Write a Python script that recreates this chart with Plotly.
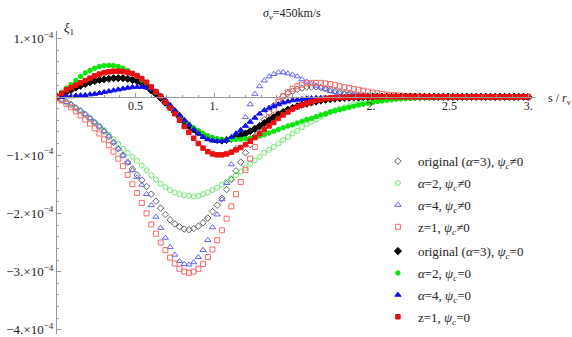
import plotly.graph_objects as go

# s / r_v sample positions
S = [0.00, 0.03, 0.06, 0.09, 0.12, 0.15, 0.18, 0.21, 0.24, 0.27,
     0.30, 0.33, 0.36, 0.39, 0.42, 0.45, 0.48, 0.51, 0.54, 0.57,
     0.60, 0.63, 0.66, 0.69, 0.72, 0.75, 0.78, 0.81, 0.84, 0.87,
     0.90, 0.93, 0.96, 0.99, 1.02, 1.05, 1.08, 1.11, 1.14, 1.17,
     1.20, 1.23, 1.26, 1.29, 1.32, 1.35, 1.38, 1.41, 1.44, 1.47,
     1.50, 1.53, 1.56, 1.59, 1.62, 1.65, 1.68, 1.71, 1.74, 1.77,
     1.80, 1.83, 1.86, 1.89, 1.92, 1.95, 1.98, 2.01, 2.04, 2.07,
     2.10, 2.13, 2.16, 2.19, 2.22, 2.25, 2.28, 2.31, 2.34, 2.37,
     2.40, 2.43, 2.46, 2.49, 2.52, 2.55, 2.58, 2.61, 2.64, 2.67,
     2.70, 2.73, 2.76, 2.79, 2.82, 2.85, 2.88, 2.91, 2.94, 2.97,
     3.00]

# xi_1 in units of 1e-5
orig_psi = [0, -0.5, -0.9, -1.3, -1.9, -2.4, -3.0, -3.7, -4.4, -5.1,
            -5.9, -6.8, -7.8, -8.9, -10.0, -11.2, -12.4, -13.4, -14.3, -15.4,
            -16.7, -17.9, -19.1, -20.2, -21.1, -21.8, -22.3, -22.7, -22.8, -22.6,
            -22.2, -21.6, -20.8, -19.7, -18.6, -17.4, -15.9, -14.2, -12.7, -11.2,
            -9.6, -8.2, -6.8, -5.3, -3.9, -2.7, -1.5, -0.6, 0.1, 0.6,
            1.0, 1.3, 1.5, 1.7, 1.7, 1.7, 1.6, 1.4, 1.2, 1.0,
            0.8, 0.6, 0.5, 0.4, 0.3, 0.2, 0.15, 0.1, 0.1, 0.05,
            0.05, 0, 0, 0, 0, 0, 0, 0, 0, 0,
            0, 0, 0, 0, 0, 0, 0, 0, 0, 0,
            0, 0, 0, 0, 0, 0, 0, 0, 0, 0,
            0]
a2_psi = [0, -0.5, -0.9, -1.3, -1.9, -2.4, -3.0, -3.6, -4.3, -5.0,
          -5.7, -6.5, -7.3, -8.1, -8.9, -9.6, -10.3, -11.0, -11.8, -12.6,
          -13.5, -14.2, -14.9, -15.5, -16.0, -16.4, -16.7, -16.9, -17.0, -17.1,
          -17.0, -16.7, -16.4, -16.0, -15.6, -15.1, -14.6, -14.0, -13.4, -12.8,
          -12.2, -11.5, -10.9, -10.3, -9.6, -9.1, -8.6, -8.0, -7.4, -6.9,
          -6.3, -5.8, -5.2, -4.7, -4.3, -3.9, -3.4, -3.0, -2.6, -2.3,
          -2.0, -1.8, -1.6, -1.3, -1.1, -0.9, -0.7, -0.6, -0.5, -0.4,
          -0.3, -0.25, -0.2, -0.15, -0.1, -0.1, -0.05, -0.05, 0, 0,
          0, 0, 0, 0, 0, 0, 0, 0, 0, 0,
          0, 0, 0, 0, 0, 0, 0, 0, 0, 0,
          0]
a4_psi = [0, -0.5, -0.9, -1.3, -1.9, -2.4, -3.0, -3.7, -4.4, -5.1,
          -5.9, -6.8, -7.8, -8.9, -10.1, -11.3, -12.6, -13.8, -15.1, -16.7,
          -18.6, -20.6, -22.5, -24.2, -25.8, -27.1, -28.2, -28.7, -28.8, -28.4,
          -27.5, -26.3, -24.6, -22.4, -20.2, -17.6, -14.8, -11.6, -8.8, -6.0,
          -3.5, -1.3, 0.5, 1.8, 2.8, 3.5, 3.9, 4.2, 4.2, 4.0,
          3.8, 3.5, 3.0, 2.6, 2.2, 1.9, 1.6, 1.3, 1.0, 0.8,
          0.6, 0.5, 0.4, 0.3, 0.2, 0.15, 0.1, 0.1, 0.05, 0.05,
          0, 0, 0, 0, 0, 0, 0, 0, 0, 0,
          0, 0, 0, 0, 0, 0, 0, 0, 0, 0,
          0, 0, 0, 0, 0, 0, 0, 0, 0, 0,
          0]
z1_psi = [0, -0.6, -1.2, -1.8, -2.5, -3.2, -3.9, -4.6, -5.4, -6.3,
          -7.3, -8.3, -9.4, -10.6, -11.9, -13.4, -15.0, -16.5, -18.2, -20.0,
          -21.9, -23.5, -25.0, -26.3, -27.6, -28.6, -29.5, -30.0, -30.2, -30.0,
          -29.5, -28.7, -27.5, -26.2, -24.6, -22.9, -20.9, -18.8, -16.7, -14.6,
          -12.6, -10.6, -8.6, -6.6, -4.9, -3.5, -2.2, -0.9, 0.1, 0.8,
          1.4, 1.8, 2.1, 2.3, 2.4, 2.4, 2.4, 2.3, 2.2, 2.0,
          1.8, 1.65, 1.5, 1.35, 1.2, 1.05, 0.9, 0.75, 0.6, 0.5,
          0.4, 0.3, 0.25, 0.2, 0.15, 0.1, 0.1, 0.05, 0.05, 0,
          0, 0, 0, 0, 0, 0, 0, 0, 0, 0,
          0, 0, 0, 0, 0, 0, 0, 0, 0, 0,
          0]
orig_nopsi = [0, 0.3, 0.8, 1.2, 1.6, 1.9, 2.2, 2.5, 2.7, 2.9,
              3.0, 3.1, 3.2, 3.2, 3.2, 3.1, 2.9, 2.7, 2.3, 1.8,
              1.1, 0.5, -0.2, -1.0, -1.8, -2.6, -3.4, -4.2, -5.0, -5.6,
              -6.1, -6.5, -6.9, -7.2, -7.4, -7.5, -7.4, -7.2, -6.9, -6.6,
              -6.3, -5.9, -5.5, -5.0, -4.5, -4.0, -3.5, -3.0, -2.6, -2.2,
              -1.9, -1.6, -1.35, -1.15, -0.95, -0.8, -0.65, -0.5, -0.4, -0.3,
              -0.25, -0.2, -0.15, -0.1, -0.1, -0.05, -0.05, 0, 0, 0,
              0, 0, 0, 0, 0, 0, 0, 0, 0, 0,
              0, 0, 0, 0, 0, 0, 0, 0, 0, 0,
              0, 0, 0, 0, 0, 0, 0, 0, 0, 0,
              0]
a2_nopsi = [0, 0.8, 1.5, 2.1, 2.8, 3.5, 4.1, 4.5, 4.9, 5.2,
            5.35, 5.4, 5.35, 5.2, 4.9, 4.5, 4.0, 3.5, 2.9, 2.3,
            1.5, 0.8, 0.0, -0.8, -1.6, -2.4, -3.2, -4.0, -4.7, -5.3,
            -5.8, -6.3, -6.7, -7.0, -7.2, -7.3, -7.35, -7.35, -7.3, -7.3,
            -7.2, -7.1, -6.9, -6.7, -6.5, -6.2, -5.9, -5.6, -5.3, -5.0,
            -4.8, -4.5, -4.2, -3.9, -3.7, -3.4, -3.1, -2.9, -2.6, -2.4,
            -2.2, -2.0, -1.8, -1.6, -1.4, -1.25, -1.1, -0.95, -0.8, -0.7,
            -0.6, -0.5, -0.4, -0.35, -0.3, -0.25, -0.2, -0.15, -0.1, -0.1,
            -0.05, -0.05, -0.05, 0, 0, 0, 0, 0, 0, 0,
            0, 0, 0, 0, 0, 0, 0, 0, 0, 0,
            0]
a4_nopsi = [0, 0, 0.1, 0.1, 0.2, 0.25, 0.3, 0.4, 0.5, 0.65,
            0.8, 0.95, 1.1, 1.25, 1.4, 1.55, 1.65, 1.7, 1.7, 1.6,
            1.4, 0.9, 0.2, -0.6, -1.4, -2.3, -3.1, -4.0, -4.8, -5.6,
            -6.3, -6.9, -7.3, -7.5, -7.6, -7.6, -7.4, -6.9, -6.3, -5.7,
            -5.0, -4.3, -3.6, -2.9, -2.3, -1.9, -1.6, -1.3, -1.0, -0.8,
            -0.6, -0.5, -0.4, -0.3, -0.25, -0.2, -0.2, -0.15, -0.15, -0.1,
            -0.1, -0.1, -0.1, -0.05, -0.05, -0.05, 0, 0, 0, 0,
            0, 0, 0, 0, 0, 0, 0, 0, 0, 0,
            0, 0, 0, 0, 0, 0, 0, 0, 0, 0,
            0, 0, 0, 0, 0, 0, 0, 0, 0, 0,
            0]
z1_nopsi = [0, 0.6, 1.2, 1.6, 2.0, 2.4, 2.8, 3.2, 3.6, 3.9,
            4.15, 4.3, 4.4, 4.4, 4.35, 4.2, 4.0, 3.6, 3.1, 2.5,
            1.7, 0.9, 0.1, -0.9, -1.9, -2.9, -4.0, -5.1, -6.1, -7.1,
            -8.0, -8.8, -9.4, -9.8, -9.95, -9.95, -9.8, -9.5, -9.1, -8.7,
            -8.2, -7.6, -7.0, -6.3, -5.6, -5.0, -4.4, -3.7, -3.1, -2.6,
            -2.1, -1.7, -1.4, -1.1, -0.85, -0.6, -0.45, -0.3, -0.2, -0.15,
            -0.1, -0.1, -0.05, -0.05, 0, 0, 0, 0, 0, 0,
            0, 0, 0, 0, 0, 0, 0, 0, 0, 0,
            0, 0, 0, 0, 0, 0, 0, 0, 0, 0,
            0, 0, 0, 0, 0, 0, 0, 0, 0, 0,
            0]

x_tickvals = [0.5, 1.0, 1.5, 2.0, 2.5, 3.0]
x_ticktext = ['0.5', '1.', '', '2.', '2.5', '3.']
y_tickvals = [1e-4, -1e-4, -2e-4, -3e-4, -4e-4]
y_ticktext = ['1.×10<sup>−4</sup>', '−1.×10<sup>−4</sup>', '−2.×10<sup>−4</sup>',
              '−3.×10<sup>−4</sup>', '−4.×10<sup>−4</sup>']

series = [
    (orig_psi, 'original (<i>α</i>=3), <i>ψ</i><sub><i>c</i></sub>≠0', 'diamond-open', 'rgb(95,95,95)', 5, 'legend'),
    (a2_psi, '<i>α</i>=2, <i>ψ</i><sub><i>c</i></sub>≠0', 'circle-open', 'rgb(110,230,110)', 5, 'legend'),
    (a4_psi, '<i>α</i>=4, <i>ψ</i><sub><i>c</i></sub>≠0', 'triangle-up-open', 'rgb(100,100,245)', 5.5, 'legend'),
    (z1_psi, 'z=1, <i>ψ</i><sub><i>c</i></sub>≠0', 'square-open', 'rgb(245,105,105)', 5, 'legend'),
    (orig_nopsi, 'original (<i>α</i>=3), <i>ψ</i><sub><i>c</i></sub>=0', 'diamond', 'black', 5.5, 'legend2'),
    (a2_nopsi, '<i>α</i>=2, <i>ψ</i><sub><i>c</i></sub>=0', 'circle', 'rgb(10,230,10)', 4.5, 'legend2'),
    (a4_nopsi, '<i>α</i>=4, <i>ψ</i><sub><i>c</i></sub>=0', 'triangle-up', 'rgb(15,15,235)', 5.5, 'legend2'),
    (z1_nopsi, 'z=1, <i>ψ</i><sub><i>c</i></sub>=0', 'square', 'rgb(235,15,15)', 4.5, 'legend2'),
]

fig = go.Figure()
for k, (vals, name, sym, col, sz, leg) in enumerate(series):
    fig.add_trace(go.Scatter(x=S, y=[v * 1e-5 for v in vals], mode='markers', name=name,
                             legendgroup='g%d' % k, legend=leg,
                             marker=dict(symbol=sym, color=col, size=sz,
                                         line=dict(color=col, width=1))))

axis_col = '#9a9a9a'
legend_style = dict(x=0.67, xanchor='left', yanchor='top', bgcolor='rgba(0,0,0,0)',
                    itemwidth=30, tracegroupgap=2, font=dict(size=13))
fig.update_layout(width=572, height=337,
                  margin=dict(l=57, r=36, t=31, b=3),
                  plot_bgcolor='white', paper_bgcolor='white',
                  font=dict(family='Liberation Serif', size=12, color='#222'),
                  legend=dict(y=0.62, **legend_style),
                  legend2=dict(y=0.323, **legend_style))
fig.update_xaxes(range=[0, 3.05], anchor='free', position=0.7828, automargin=False,
                 showline=True, linecolor=axis_col, linewidth=1,
                 showgrid=False, zeroline=False,
                 tickmode='array', tickvals=x_tickvals, ticktext=x_ticktext,
                 ticks='inside', ticklen=4, tickcolor=axis_col, ticklabelstandoff=-2,
                 minor=dict(tickmode='linear', tick0=0, dtick=0.1, ticks='inside',
                            ticklen=2, tickcolor=axis_col))
fig.update_yaxes(range=[-4.07e-4, 1.13e-4], automargin=False,
                 showline=True, linecolor=axis_col, linewidth=1,
                 showgrid=False, zeroline=False, ticklabeloverflow='allow',
                 tickmode='array', tickvals=y_tickvals, ticktext=y_ticktext,
                 tickfont=dict(size=13),
                 ticks='inside', ticklen=4, tickcolor=axis_col,
                 minor=dict(tickmode='linear', tick0=0, dtick=2e-5, ticks='inside',
                            ticklen=2, tickcolor=axis_col))

fig.add_annotation(text='<i>σ</i><sub><i>v</i></sub>=450km/s', xref='paper', yref='paper',
                   x=0.49, y=1.088, showarrow=False, font=dict(size=12))
fig.add_annotation(text='<i>ξ</i><sub>1</sub>', xref='paper', yref='paper',
                   x=0.011, y=1.043, showarrow=False, font=dict(size=13))
fig.add_annotation(text='s / <i>r</i><sub><i>v</i></sub>', xref='paper', yref='paper',
                   x=1.02, y=0.81, xanchor='left', showarrow=False, font=dict(size=12))

# the page's default body margin would shift the 572x337 figure
fig.write_html("out.html", config={'displayModeBar': False},
               post_script="document.body.style.margin='0';")
